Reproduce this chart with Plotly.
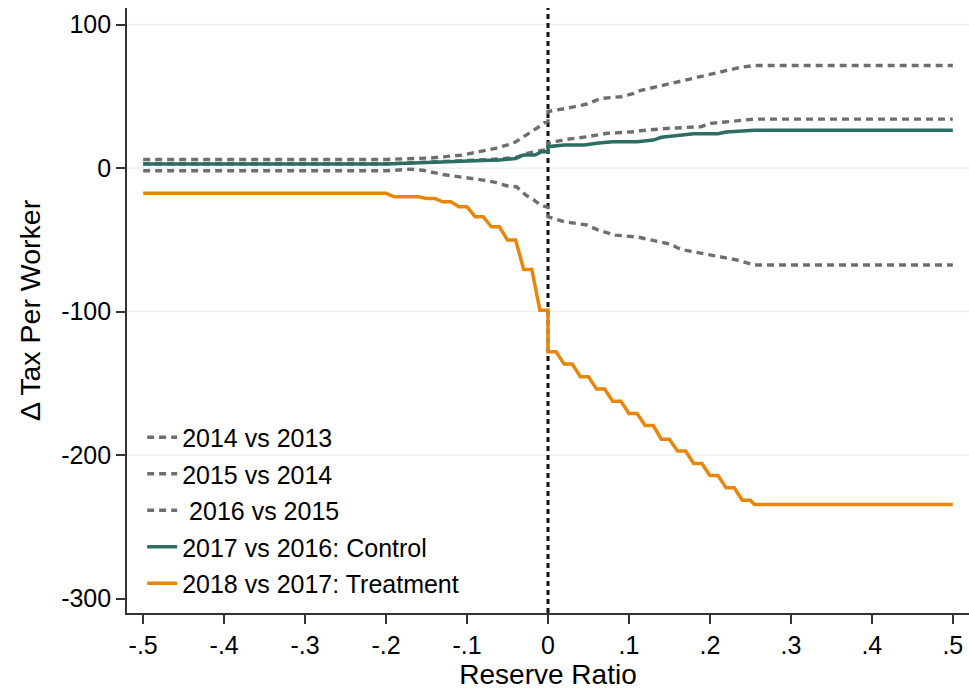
import plotly.graph_objects as go

# ---- data (vertices) ----
x_2014 = [-0.5, -0.2, -0.145, -0.105, -0.085, -0.065, -0.043, -0.026, -0.014, -0.004, 0.0, 0.0,
          0.023, 0.048, 0.065, 0.09, 0.106, 0.114, 0.139, 0.164, 0.189, 0.213, 0.238, 0.255, 0.5]
y_2014 = [6.0, 6.0, 7.0, 9.1, 11.4, 13.7, 17.2, 23.0, 27.7, 31.6, 32.5, 39.4,
          41.6, 44.6, 48.5, 49.7, 52.0, 54.0, 57.3, 60.8, 64.1, 67.2, 70.2, 71.4, 71.4]

x_2015 = [-0.5, -0.2, -0.088, -0.06, -0.039, -0.026, -0.006, 0.0, 0.0,
          0.023, 0.048, 0.073, 0.106, 0.114, 0.147, 0.189, 0.201, 0.222, 0.255, 0.5]
y_2015 = [3.0, 3.0, 5.6, 6.3, 7.5, 10.2, 12.5, 13.0, 17.2,
          20.0, 21.8, 24.2, 25.3, 26.0, 27.6, 28.8, 31.1, 32.2, 34.1, 34.1]

x_2016 = [-0.5, -0.2, -0.17, -0.155, -0.13, -0.1, -0.08, -0.065, -0.05, -0.039, -0.027, -0.018,
          -0.01, 0.0, 0.0, 0.02, 0.048, 0.062, 0.083, 0.112, 0.139, 0.151, 0.164, 0.189, 0.213,
          0.234, 0.255, 0.5]
y_2016 = [-1.9, -1.9, -0.8, -1.5, -4.5, -6.7, -8.4, -10.0, -12.5, -13.0, -19.0, -22.0,
          -25.5, -27.5, -33.9, -37.4, -39.7, -43.2, -46.7, -48.2, -51.8, -53.0, -56.7, -59.5, -61.8,
          -64.1, -67.6, -67.6]

x_2017 = [-0.5, -0.2, -0.09, -0.06, -0.04, -0.03, -0.016, -0.008, 0.0, 0.0, 0.02, 0.045, 0.06,
          0.08, 0.11, 0.13, 0.14, 0.17, 0.18, 0.21, 0.22, 0.255, 0.5]
y_2017 = [2.8, 2.8, 5.1, 5.6, 6.7, 9.1, 9.1, 11.4, 11.4, 14.9, 16.0, 16.0, 17.2,
          18.3, 18.3, 19.5, 21.4, 23.0, 23.9, 23.9, 25.1, 26.3, 26.3]

x_2018 = [-0.5, -0.2, -0.19, -0.16, -0.15, -0.14, -0.13, -0.12, -0.11, -0.10, -0.09, -0.08,
          -0.07, -0.06, -0.05, -0.04, -0.03, -0.02, -0.01, 0.0, 0.0, 0.01, 0.02, 0.03, 0.04,
          0.05, 0.06, 0.07, 0.08, 0.09, 0.10, 0.11, 0.12, 0.13, 0.14, 0.15, 0.16, 0.17, 0.18,
          0.19, 0.20, 0.21, 0.22, 0.23, 0.24, 0.25, 0.255, 0.5]
y_2018 = [-17.6, -17.6, -20.0, -20.0, -21.2, -21.2, -23.5, -23.5, -27.0, -27.0, -33.9, -33.9,
          -40.9, -40.9, -50.2, -50.2, -70.6, -70.6, -99.0, -99.0, -128.0, -128.0, -136.6, -136.6, -145.4,
          -145.4, -154.0, -154.0, -162.4, -162.4, -171.0, -171.0, -179.4, -179.4, -188.9, -188.9, -197.2, -197.2, -205.8,
          -205.8, -214.2, -214.2, -222.8, -222.8, -231.4, -231.4, -234.4, -234.4]

series_names = ["2014 vs 2013", "2015 vs 2014", "\u00a02016 vs 2015",
                "2017 vs 2016: Control", "2018 vs 2017: Treatment"]

x_tickvals = [-0.5, -0.4, -0.3, -0.2, -0.1, 0.0, 0.1, 0.2, 0.3, 0.4, 0.5]
x_ticktext = ["-.5", "-.4", "-.3", "-.2", "-.1", "0", ".1", ".2", ".3", ".4", ".5"]
y_tickvals = [100, 0, -100, -200, -300]
y_ticktext = ["100", "0", "-100", "-200", "-300"]
grid_vals = [100, 0, -100, -200]
vline_x = 0.0

GREY = "#6e6e6e"
TEAL = "#2c6d64"
ORANGE = "#e8860c"
FONT = "Liberation Sans, Arial, sans-serif"

fig = go.Figure()
xs = [x_2014, x_2015, x_2016, x_2017, x_2018]
ys = [y_2014, y_2015, y_2016, y_2017, y_2018]
styles = [dict(color=GREY, width=3.4, dash="7px,5px"),
          dict(color=GREY, width=3.4, dash="7px,5px"),
          dict(color=GREY, width=3.4, dash="7px,5px"),
          dict(color=TEAL, width=3.5),
          dict(color=ORANGE, width=3.5)]
for i in range(5):
    fig.add_trace(go.Scatter(x=xs[i], y=ys[i], mode="lines", name=series_names[i],
                             line=styles[i], legendgroup=str(i)))

for g in grid_vals:
    fig.add_shape(type="line", xref="paper", x0=0, x1=1, yref="y", y0=g, y1=g,
                  line=dict(color="#e6eff2", width=1.3), layer="below")

fig.add_shape(type="line", xref="x", x0=vline_x, x1=vline_x, yref="paper", y0=0, y1=1,
              line=dict(color="#111111", width=3, dash="5px,4px"), layer="below")

fig.update_layout(
    width=969, height=692,
    margin=dict(l=127, r=0, t=8, b=79),
    paper_bgcolor="white", plot_bgcolor="white",
    font=dict(family=FONT, color="black", size=25),
    showlegend=True,
    legend=dict(x=0.018, y=0.328, xanchor="left", yanchor="top",
                bgcolor="rgba(0,0,0,0)", font=dict(size=25, family=FONT, color="black"),
                tracegroupgap=1, traceorder="grouped", itemwidth=30),
    xaxis=dict(range=[-0.52, 0.52], tickvals=x_tickvals, ticktext=x_ticktext,
               showgrid=False, zeroline=False, showline=True, linecolor="#333333", linewidth=1.6,
               ticks="outside", ticklen=9, tickwidth=1.5, tickcolor="#333333",
               tickfont=dict(size=25, family=FONT, color="black"),
               title=dict(text="Reserve Ratio", font=dict(size=28, family=FONT, color="black"),
                          standoff=0)),
    yaxis=dict(range=[-310, 111.5], tickvals=y_tickvals, ticktext=y_ticktext,
               showgrid=False, zeroline=False, showline=True, linecolor="#333333", linewidth=1.6,
               ticks="outside", ticklen=9, tickwidth=1.5, tickcolor="#333333",
               tickfont=dict(size=25, family=FONT, color="black"),
               title=dict(text="\u0394 Tax Per Worker", font=dict(size=28.5, family=FONT, color="black"),
                          standoff=12)),
)

fig.write_html("out.html")
